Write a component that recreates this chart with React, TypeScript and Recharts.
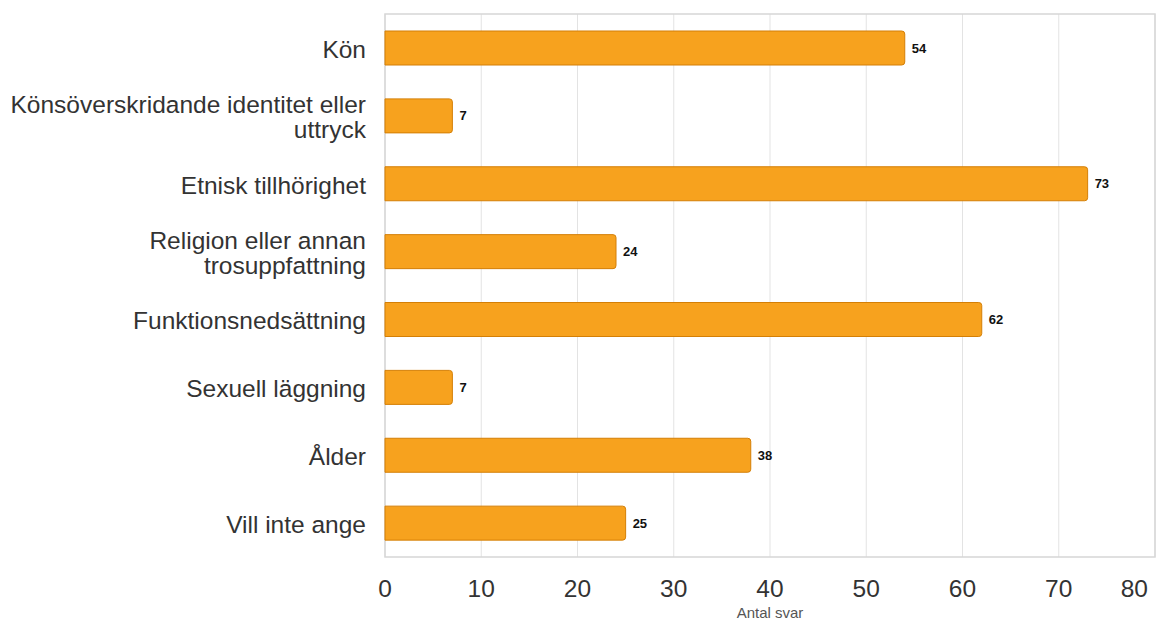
import React from 'react';
import { BarChart, Bar, XAxis, YAxis, CartesianGrid, LabelList, ReferenceArea } from 'recharts';

const categories = [
  'Kön',
  'Könsöverskridande identitet eller\nuttryck',
  'Etnisk tillhörighet',
  'Religion eller annan\ntrosuppfattning',
  'Funktionsnedsättning',
  'Sexuell läggning',
  'Ålder',
  'Vill inte ange',
];
const values = [54, 7, 73, 24, 62, 7, 38, 25];
const xTicks = [0, 10, 20, 30, 40, 50, 60, 70, 80];
const xAxisTitle = 'Antal svar';

const data = categories.map((c, i) => ({ name: c, value: values[i] }));

const FONT = 'Liberation Sans, Arial, sans-serif';

const YTick = (props: any) => {
  const { x, y, payload } = props;
  const lines: string[] = String(payload.value).split('\n');
  const lh = 25;
  const start = y + 1 - ((lines.length - 1) * lh) / 2;
  return (
    <text x={x} y={start} textAnchor="end" fill="#333" fontSize={24.5} fontFamily={FONT} dominantBaseline="central">
      {lines.map((l, i) => (
        <tspan key={i} x={x} y={start + i * lh} dominantBaseline="central">{l}</tspan>
      ))}
    </text>
  );
};

const XTick = (props: any) => {
  const { x, y, payload } = props;
  const last = payload.value === xTicks[xTicks.length - 1];
  return (
    <text x={last ? x - 2 : x} y={y + 40} textAnchor={last ? 'end' : 'middle'} fill="#333" fontSize={24.5} fontFamily={FONT}>
      {payload.value}
    </text>
  );
};

export default function App() {
  return (
    <div style={{ position: 'absolute', left: 0, top: 0, background: '#fff' }}>
      <BarChart
        width={1158}
        height={621}
        data={data}
        layout="vertical"
        margin={{ top: 14, right: 3, left: 0, bottom: 0 }}
      >
        <CartesianGrid horizontal={false} stroke="#e3e3e3" />
        <ReferenceArea x1={0} x2={80} fill="none" stroke="#d6d6d6" strokeWidth={1.5} ifOverflow="visible" />
        <XAxis
          type="number"
          domain={[0, 80]}
          ticks={xTicks}
          tickLine={false}
          axisLine={false}
          tickSize={0}
          tickMargin={0}
          height={64}
          tick={<XTick />}
          label={{ value: xAxisTitle, position: 'insideBottom', offset: 3, fontSize: 15, fill: '#555', fontFamily: FONT }}
        />
        <YAxis
          type="category"
          dataKey="name"
          width={385}
          tickLine={false}
          axisLine={false}
          tickSize={0}
          tickMargin={19}
          interval={0}
          tick={<YTick />}
        />
        <Bar
          dataKey="value"
          fill="#F7A21E"
          stroke="#D47F06"
          strokeWidth={1}
          barSize={34}
          radius={[0, 3, 3, 0]}
          isAnimationActive={false}
        >
          <LabelList dataKey="value" position="right" offset={7} fill="#111" fontSize={13} fontWeight="bold" fontFamily={FONT} />
        </Bar>
      </BarChart>
    </div>
  );
}
